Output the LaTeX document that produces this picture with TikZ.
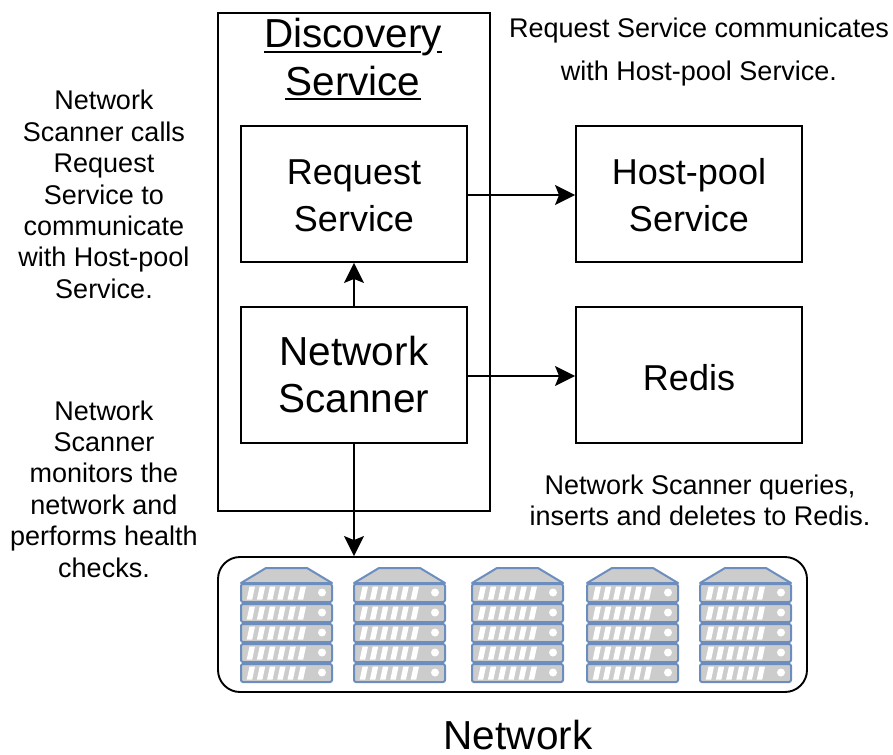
\documentclass[tikz,border=0pt]{standalone}
\usepackage{fontspec}
\setmainfont{Liberation Sans}
\usetikzlibrary{arrows.meta}
\newcommand{\fsz}[2]{\fontsize{#1}{#2}\selectfont}
\newcommand{\dn}[1]{\rule{0pt}{#1pt}}
\newcommand{\ulA}{\rlap{\rule[-5.5pt]{157pt}{2pt}}\rlap{\hspace{173pt}\rule[-5.5pt]{5pt}{2pt}}Discovery}
\newcommand{\ulB}{\rlap{\rule[-5pt]{136pt}{2pt}}Service}
\definecolor{srvblue}{HTML}{6C8EBF}
\definecolor{srvgray}{HTML}{CCCCCC}
\tikzset{
  x=1pt,y=-1pt,
  boxnode/.style={draw=black,line width=1.9pt,minimum width=226pt,minimum height=136pt,inner sep=0pt,align=center,font=\fsz{36}{46.5}},
  bignode/.style={boxnode,font=\fsz{40.5}{47}},
  outernode/.style={draw=black,line width=1.9pt,minimum width=272pt,minimum height=498pt,inner sep=0pt},
  netnode/.style={draw=black,line width=1.9pt,rounded corners=22pt,minimum width=589pt,minimum height=135pt,inner sep=0pt},
  note/.style={align=center,inner sep=0pt,font=\fsz{27}{31.4}},
  conn/.style={line width=1.9pt,-{Stealth[length=20pt,width=20pt,inset=4pt]}},
  srvline/.style={draw=srvblue,fill=srvgray,line width=2pt},
  pics/server/.style={code={
    \draw[srvline,line join=round] (25,0) -- (66,0) -- (91,15) -- (0,15) -- cycle;
    \fill[srvblue] (0,14) rectangle (91,17);
    \foreach \r in {16,36,56,76,96}{
      \draw[srvline,rounded corners=2pt] (0,\r) rectangle (91,\r+18);
      \foreach \s in {0,...,5}{
        \fill[white] (5.7+10.2*\s,\r+15.5) -- (11.2+10.2*\s,\r+15.5) -- (14+10.2*\s,\r+2.5) -- (8.5+10.2*\s,\r+2.5) -- cycle;
      }
      \fill[white] (81,\r+8.5) circle (4pt);
    }
  }}
}
\begin{document}
\begin{tikzpicture}
\useasboundingbox (0,0) rectangle (893,754);
\node[outernode] (disc) at (354,262) {};
\node[align=center,inner sep=0pt,font=\fsz{40.5}{47.5}] (disclabel) at (353,59.5) {\ulA\\\ulB};
\node[boxnode] (req) at (354,194) {\dn{28}Request\\Service};
\node[boxnode] (host) at (689,194) {\dn{28}Host-pool\\Service};
\node[bignode] (scan) at (354,375) {Network\\Scanner};
\node[boxnode] (redis) at (689,375) {\dn{31}Redis};
\node[netnode] (net) at (512.5,624.5) {};
\node[inner sep=0pt,font=\fsz{40.5}{47}] (netlabel) at (518,735.5) {Network};

\draw[conn] (req.east |- 0,195) -- (host.west |- 0,195);
\draw[conn] (scan.north) -- (req.south);
\draw[conn] (scan.east |- 0,376) -- (redis.west |- 0,376);
\draw[conn] (scan.south) -- (net.north -| scan.south);

\foreach \x in {241,354,472,587,700}{
  \pic at (\x,568) {server};
}

\node[note] (n1) at (104,194.5) {Network\\Scanner calls\\Request\\Service to\\communicate\\with Host-pool\\Service.};
\node[note] (n2) at (104,489) {Network\\Scanner\\monitors the\\network and\\performs health\\checks.};
\node[note,font=\fsz{27}{43}] (n3) at (699,52) {Request Service communicates\\with Host-pool Service.};
\node[note,font=\fsz{27}{31}] (n4) at (700,500.5) {Network Scanner queries,\\inserts and deletes to Redis.};
\end{tikzpicture}
\end{document}
